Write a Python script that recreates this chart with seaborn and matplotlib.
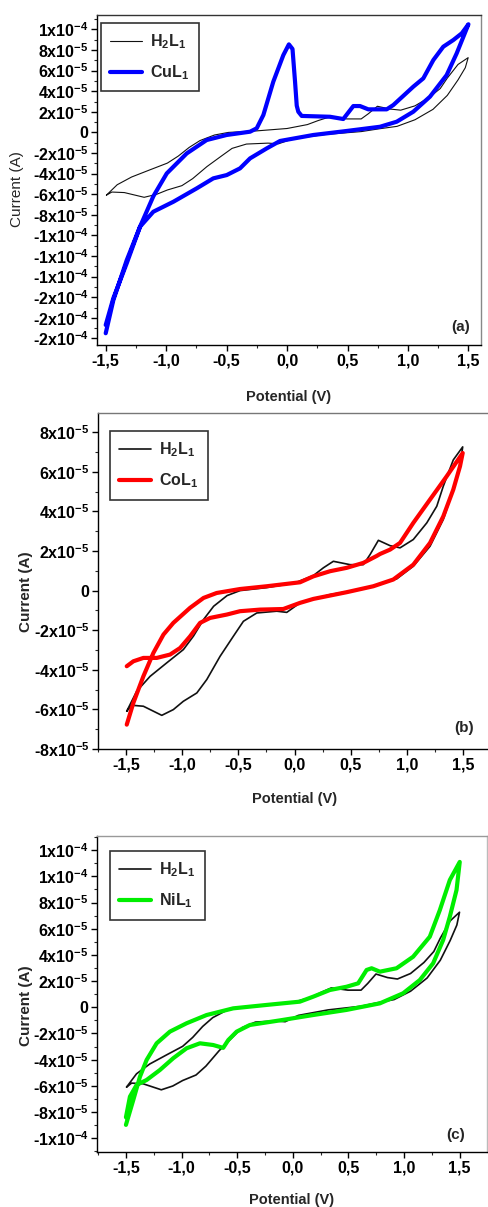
import numpy as np
import matplotlib
matplotlib.use("Agg")
import matplotlib.pyplot as plt
import seaborn as sns
from matplotlib.ticker import MultipleLocator, FixedLocator

# ---------------- data (potential in V, current in units of 1e-5 A) ----------------
SCALE = 1e-5

h2l1_potential = [-1.494, -1.405, -1.286, -1.138, -0.99, -0.90, -0.81, -0.72, -0.60, -0.485,
                  -0.25, 0.0, 0.168, 0.257, 0.346, 0.495, 0.613, 0.673, 0.747, 0.851,
                  0.94, 1.058, 1.178, 1.267, 1.325, 1.414, 1.498,
                  1.474, 1.414, 1.325, 1.207, 1.058, 0.91, 0.762, 0.613, 0.317, 0.049,
                  -0.069, -0.158, -0.336, -0.455, -0.545, -0.663, -0.781, -0.87, -0.99,
                  -1.079, -1.182, -1.346, -1.449, -1.494]
h2l1_current = [-6.09, -5.08, -4.33, -3.65, -2.98, -2.30, -1.46, -0.79, -0.25, 0.0,
                0.15, 0.38, 0.76, 1.15, 1.48, 1.31, 1.31, 1.82, 2.54, 2.27,
                2.16, 2.58, 3.42, 4.26, 5.27, 6.60, 7.26,
                6.28, 5.10, 3.59, 2.24, 1.23, 0.59, 0.35, 0.08, -0.20, -0.62,
                -1.10, -1.04, -1.13, -1.55, -2.31, -3.32, -4.49, -5.17, -5.59,
                -6.01, -6.30, -5.84, -5.79, -6.09]

cul1_potential = [-1.50, -1.437, -1.326, -1.216, -1.106, -0.995, -0.83, -0.665, -0.50, -0.306,
                  -0.251, -0.196, -0.114, -0.031, 0.015, 0.045, 0.066, 0.08, 0.093, 0.121,
                  0.355, 0.465, 0.548, 0.603, 0.672, 0.824, 0.879, 1.044, 1.127, 1.21,
                  1.292, 1.375, 1.445, 1.50,
                  1.403, 1.32, 1.182, 1.044, 0.907, 0.769, 0.493, 0.217, -0.058, -0.168,
                  -0.306, -0.389, -0.499, -0.61, -0.747, -0.94, -1.106, -1.216, -1.326,
                  -1.437, -1.50]
cul1_current = [-19.5, -16.3, -12.4, -9.15, -6.2, -3.98, -2.04, -0.74, -0.25, 0.07,
                0.4, 1.69, 4.92, 7.5, 8.55, 8.1, 4.92, 2.6, 2.01, 1.6,
                1.52, 1.3, 2.56, 2.56, 2.24, 2.24, 2.66, 4.44, 5.25, 7.03,
                8.32, 8.97, 9.62, 10.5,
                7.68, 5.57, 3.47, 2.01, 1.04, 0.55, 0.14, -0.25, -0.83, -1.55,
                -2.52, -3.49, -4.14, -4.46, -5.43, -6.73, -7.7, -9.15, -12.7,
                -16.1, -18.7]

col1_potential = [-1.494, -1.435, -1.346, -1.227, -1.108, -1.019, -0.93, -0.841, -0.752, -0.603,
                  -0.485, -0.307, -0.10, 0.049, 0.168, 0.465, 0.702, 0.88, 1.058, 1.207,
                  1.325, 1.414, 1.474, 1.498,
                  1.355, 1.207, 1.058, 0.94, 0.851, 0.762, 0.732, 0.613, 0.465, 0.317,
                  0.168, 0.049, -0.247, -0.485, -0.693, -0.81, -0.93, -1.079, -1.167,
                  -1.257, -1.346, -1.435, -1.494]
col1_current = [-3.82, -3.57, -3.40, -3.40, -3.23, -2.90, -2.31, -1.63, -1.38, -1.21,
                -1.04, -0.96, -0.93, -0.62, -0.42, -0.08, 0.22, 0.56, 1.31, 2.41,
                3.75, 5.10, 6.28, 6.95,
                5.77, 4.60, 3.42, 2.41, 2.07, 1.85, 1.75, 1.40, 1.15, 0.98,
                0.72, 0.42, 0.22, 0.08, -0.12, -0.37, -0.87, -1.63, -2.22,
                -3.15, -4.33, -5.67, -6.77]

nil1_potential = [-1.50, -1.434, -1.374, -1.314, -1.224, -1.105, -0.955, -0.775, -0.536, -0.236,
                  0.063, 0.183, 0.333, 0.483, 0.587, 0.663, 0.708, 0.782, 0.932, 1.081,
                  1.231, 1.321, 1.411, 1.50,
                  1.471, 1.411, 1.351, 1.261, 1.141, 0.991, 0.782, 0.483, 0.183, -0.116,
                  -0.386, -0.505, -0.58, -0.626, -0.716, -0.835, -0.955, -1.075, -1.195,
                  -1.314, -1.404, -1.464, -1.50]
nil1_current = [-8.98, -7.08, -5.3, -4.02, -2.75, -1.86, -1.22, -0.59, -0.08, 0.18,
                0.43, 0.81, 1.32, 1.57, 1.83, 2.85, 2.98, 2.72, 2.98, 3.86,
                5.39, 7.42, 9.72, 11.1,
                8.95, 6.92, 5.14, 3.36, 2.08, 1.07, 0.30, -0.20, -0.59, -1.0,
                -1.35, -1.86, -2.5, -3.1, -2.88, -2.75, -3.13, -3.89, -4.79,
                -5.55, -5.93, -6.82, -8.4]

x_ticks = [-1.5, -1.0, -0.5, 0.0, 0.5, 1.0, 1.5]
x_tick_labels = ["-1,5", "-1,0", "-0,5", "0,0", "0,5", "1,0", "1,5"]

a_yticks = [1e-4, 8e-5, 6e-5, 4e-5, 2e-5, 0, -2e-5, -4e-5, -6e-5, -8e-5,
            -1e-4, -1.2e-4, -1.4e-4, -1.6e-4, -1.8e-4, -2e-4]
a_ytick_labels = ["1x10$^{-4}$", "8x10$^{-5}$", "6x10$^{-5}$", "4x10$^{-5}$", "2x10$^{-5}$", "0",
                  "-2x10$^{-5}$", "-4x10$^{-5}$", "-6x10$^{-5}$", "-8x10$^{-5}$",
                  "-1x10$^{-4}$", "-1x10$^{-4}$", "-1x10$^{-4}$", "-2x10$^{-4}$",
                  "-2x10$^{-4}$", "-2x10$^{-4}$"]
b_yticks = [8e-5, 6e-5, 4e-5, 2e-5, 0, -2e-5, -4e-5, -6e-5, -8e-5]
b_ytick_labels = ["8x10$^{-5}$", "6x10$^{-5}$", "4x10$^{-5}$", "2x10$^{-5}$", "0",
                  "-2x10$^{-5}$", "-4x10$^{-5}$", "-6x10$^{-5}$", "-8x10$^{-5}$"]
c_yticks = [1.2e-4, 1e-4, 8e-5, 6e-5, 4e-5, 2e-5, 0, -2e-5, -4e-5, -6e-5, -8e-5, -1e-4]
c_ytick_labels = ["1x10$^{-4}$", "1x10$^{-4}$", "8x10$^{-5}$", "6x10$^{-5}$", "4x10$^{-5}$",
                  "2x10$^{-5}$", "0", "-2x10$^{-5}$", "-4x10$^{-5}$", "-6x10$^{-5}$",
                  "-8x10$^{-5}$", "-1x10$^{-4}$"]

ligand_label = "H$_2$L$_1$"
complex_labels = ["CuL$_1$", "CoL$_1$", "NiL$_1$"]
panel_tags = ["(a)", "(b)", "(c)"]
x_label = "Potential (V)"
y_label = "Current (A)"

# ---------------- style ----------------
sns.set_theme(style="ticks")
plt.rcParams['font.family'] = ['Liberation Sans', 'DejaVu Sans']
plt.rcParams['mathtext.default'] = 'regular'
plt.rcParams['axes.linewidth'] = 1.0

fig = plt.figure(figsize=(4.88, 12.07), dpi=100)
W, H = 488.0, 1207.0


def make_axes(left, top, right, bottom):
    return fig.add_axes([left / W, 1 - bottom / H, (right - left) / W, (bottom - top) / H])


panels = [
    dict(box=(97, 15, 481, 345), xlim=(-1.572, 1.604), ylim=(-2.064e-4, 1.14e-4),
         yticks=a_yticks, ylabels=a_ytick_labels, cx=cul1_potential, cy=cul1_current,
         color="#0000FF", lw_black=0.8, lw_c=3.0, legend=(0.010, 0.976),
         tag=(0.948, 0.054), xlab_y=-0.135, ylab=(-0.19, 0.473), ylab_weight='normal',
         top_color="#333333", right_color="#888888"),
    dict(box=(98, 413, 491, 749), xlim=(-1.75, 1.75), ylim=(-8e-5, 8.97e-5),
         yticks=b_yticks, ylabels=b_ytick_labels, cx=col1_potential, cy=col1_current,
         color="#FF0000", lw_black=1.2, lw_c=3.0, legend=(0.030, 0.946),
         tag=(0.931, 0.062), xlab_y=-0.128, ylab=(-0.165, 0.467), ylab_weight='bold',
         top_color="#777777", right_color="#777777"),
    dict(box=(97, 836, 487, 1152), xlim=(-1.76, 1.745), ylim=(-1.105e-4, 1.308e-4),
         yticks=c_yticks, ylabels=c_ytick_labels, cx=nil1_potential, cy=nil1_current,
         color="#00EE00", lw_black=1.2, lw_c=3.0, legend=(0.033, 0.952),
         tag=(0.9205, 0.054), xlab_y=-0.13, ylab=(-0.164, 0.462), ylab_weight='bold',
         top_color="#999999", right_color="#BBBBBB"),
]

for i, p in enumerate(panels):
    ax = make_axes(*p["box"])
    sns.lineplot(x=np.array(h2l1_potential), y=np.array(h2l1_current) * SCALE, sort=False,
                 estimator=None, color="#111111", lw=p["lw_black"], ax=ax, label=ligand_label)
    sns.lineplot(x=np.array(p["cx"]), y=np.array(p["cy"]) * SCALE, sort=False,
                 estimator=None, color=p["color"], lw=p["lw_c"], ax=ax, label=complex_labels[i])
    ax.set_xlim(*p["xlim"])
    ax.set_ylim(*p["ylim"])
    ax.xaxis.set_major_locator(FixedLocator(x_ticks))
    ax.set_xticklabels(x_tick_labels)
    ax.xaxis.set_minor_locator(MultipleLocator(0.25))
    ax.yaxis.set_major_locator(FixedLocator(p["yticks"]))
    ax.set_yticklabels(p["ylabels"])
    ax.yaxis.set_minor_locator(MultipleLocator(1e-5))
    ax.tick_params(which='major', direction='out', length=4, width=1.0,
                   labelsize=11.5, pad=2, colors='black')
    ax.tick_params(which='minor', direction='out', length=2.5, width=0.8)
    for lab in ax.get_xticklabels() + ax.get_yticklabels():
        lab.set_fontweight('bold')
    for side in ['left', 'bottom']:
        ax.spines[side].set_color('black')
        ax.spines[side].set_linewidth(1.0)
    ax.spines['top'].set_color(p["top_color"])
    ax.spines['right'].set_color(p["right_color"])
    ax.set_xlabel(x_label, fontsize=10.5, fontweight='bold')
    ax.set_ylabel(y_label, fontsize=11, fontweight=p["ylab_weight"])
    ax.xaxis.set_label_coords(0.5, p["xlab_y"])
    ax.xaxis.label.set_verticalalignment('top')
    ax.yaxis.set_label_coords(*p["ylab"])
    leg = ax.legend(loc='upper left', bbox_to_anchor=p["legend"], borderaxespad=0,
                    frameon=True, fancybox=False, edgecolor='black',
                    prop=dict(weight='bold', size=11.5), handlelength=2.0,
                    handletextpad=0.5, borderpad=0.6, labelspacing=0.75)
    leg.get_frame().set_linewidth(1.2)
    ax.text(p["tag"][0], p["tag"][1], panel_tags[i], transform=ax.transAxes,
            ha='center', va='center', fontsize=11, fontweight='bold')
    ax.set_facecolor('white')

fig.savefig("out.png", dpi=100)
